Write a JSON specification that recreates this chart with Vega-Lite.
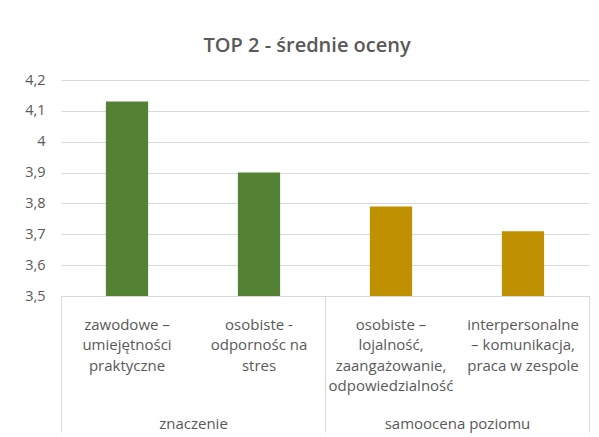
{
  "$schema": "https://vega.github.io/schema/vega-lite/v6.json",
  "width": 528,
  "height": 216,
  "autosize": {"type": "none"},
  "padding": {"left": 61, "top": 80, "right": 10, "bottom": 141},
  "background": "white",
  "title": {
    "text": "TOP 2 - średnie oceny",
    "font": "Open Sans",
    "fontSize": 20,
    "fontWeight": 600,
    "color": "#595959",
    "anchor": "middle",
    "frame": "bounds",
    "offset": 0,
    "baseline": "alphabetic"
  },
  "config": {"view": {"stroke": null}, "font": "Open Sans"},
  "data": {
    "values": [
      {"category": "zawodowe –|umiejętności|praktyczne", "group": "znaczenie", "value": 4.13},
      {"category": "osobiste -|odpornośc na|stres", "group": "znaczenie", "value": 3.90},
      {"category": "osobiste –|lojalność,|zaangażowanie,|odpowiedzialność", "group": "samoocena poziomu", "value": 3.79},
      {"category": "interpersonalne|– komunikacja,|praca w zespole", "group": "samoocena poziomu", "value": 3.71}
    ]
  },
  "layer": [
    {
      "mark": {"type": "bar"},
      "encoding": {
        "x": {
          "field": "category",
          "type": "nominal",
          "sort": null,
          "scale": {"paddingInner": 0.68, "paddingOuter": 0.34},
          "axis": {
            "orient": "bottom",
            "title": null,
            "labelExpr": "split(datum.value, '|')",
            "labelAngle": 0,
            "labelFont": "Open Sans",
            "labelFontSize": 15,
            "labelColor": "#595959",
            "labelLineHeight": 20.5,
            "labelBaseline": "alphabetic",
            "labelPadding": 33,
            "ticks": false,
            "tickSize": 0,
            "domainColor": "#d9d9d9",
            "domainWidth": 1,
            "labelOverlap": false,
            "labelLimit": 0,
            "labelBound": false,
            "zindex": 1
          }
        },
        "y": {
          "field": "value",
          "type": "quantitative",
          "scale": {"domain": [3.5, 4.2], "zero": false, "nice": false},
          "axis": {
            "title": null,
            "values": [3.5, 3.6, 3.7, 3.8, 3.9, 4.0, 4.1, 4.2],
            "labelExpr": "replace(format(datum.value, '~g'), '.', ',')",
            "grid": true,
            "gridColor": "#d9d9d9",
            "gridWidth": 1,
            "domain": false,
            "ticks": false,
            "labelPadding": 16,
            "labelFont": "Open Sans",
            "labelFontSize": 14.5,
            "labelColor": "#595959"
          }
        },
        "y2": {"datum": 3.5},
        "color": {
          "field": "group",
          "type": "nominal",
          "scale": {"domain": ["znaczenie", "samoocena poziomu"], "range": ["#548235", "#BF9000"]},
          "legend": null
        }
      }
    },
    {
      "mark": {"type": "rule", "opacity": 0},
      "encoding": {
        "x": {
          "field": "group",
          "type": "nominal",
          "sort": null,
          "scale": {"type": "band", "paddingInner": 0, "paddingOuter": 0},
          "axis": {
            "orient": "bottom",
            "title": null,
            "labelAngle": 0,
            "domain": false,
            "ticks": true,
            "tickBand": "extent",
            "tickSize": 136,
            "tickColor": "#d9d9d9",
            "tickWidth": 1,
            "labelPadding": -4,
            "labelBaseline": "alphabetic",
            "labelFont": "Open Sans",
            "labelFontSize": 15,
            "labelColor": "#595959",
            "labelOverlap": false,
            "labelLimit": 0
          }
        }
      }
    }
  ],
  "resolve": {"scale": {"x": "independent"}}
}
